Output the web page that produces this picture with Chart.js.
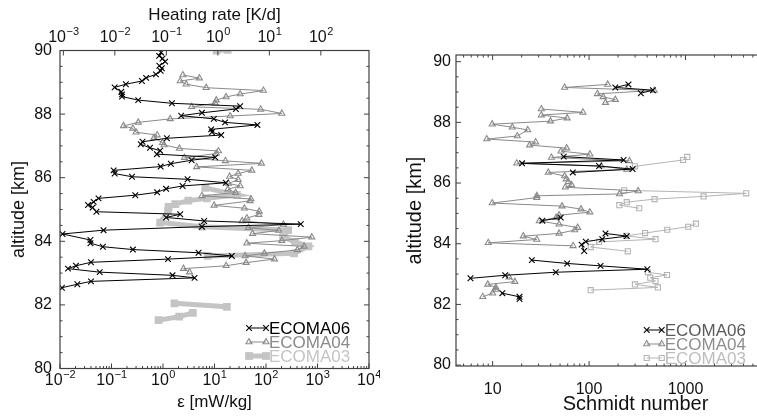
<!DOCTYPE html>
<html>
<head>
<meta charset="utf-8">
<script src="https://cdn.jsdelivr.net/npm/chart.js@4.4.1/dist/chart.umd.min.js"></script>
<style>
  body { margin: 0; background: #fff; overflow: hidden; }
  #wrap { position: relative; width: 757px; height: 418px; overflow: hidden; }
  canvas { position: absolute; top: 0; }
</style>
</head>
<body>
<div id="wrap">
  <canvas id="epsChart" width="380" height="418" style="left:0"></canvas>
  <canvas id="scChart" width="445" height="418" style="left:380px"></canvas>
</div>
<script>
// left panel: energy dissipation rate eps [mW/kg] vs altitude [km]
var epsAlt06 = [89.94,89.83,89.75,89.65,89.52,89.44,89.36,89.25,89.14,89.04,88.94,88.84,88.70,88.62,88.55,88.44,88.34,88.25,88.16,88.04,
  87.95,87.85,87.74,87.66,87.52,87.43,87.34,87.24,87.13,87.05,86.94,86.85,86.74,86.64,86.55,86.44,86.35,86.23,86.13,86.03,
  85.95,85.84,85.74,85.65,85.54,85.45,85.35,85.24,85.14,85.06,84.93,84.85,84.75,84.64,84.54,84.46,84.35,84.23,84.04,83.94,
  83.83,83.74,83.64,83.54,83.44,83.34,83.23,83.14,83.03,82.93,82.85,82.74,82.65,82.54];
var eps06 = [0.92,0.84,0.98,1.10,0.85,0.95,0.90,0.73,0.47,0.39,0.19,0.115,0.155,0.16,0.16,0.33,1.49,31.5,26,5.7,
  2.25,9.7,16,68,8.6,8.9,13.5,1.19,0.40,0.37,0.56,0.88,0.76,10.3,3.6,1.42,0.90,0.11,0.115,0.25,
  3.0,16.6,2.4,1.15,0.77,0.29,0.056,0.045,0.035,0.043,0.051,2.16,1.15,6.3,473,5.7,0.070,0.0112,0.039,0.039,
  0.068,0.26,4.9,21.7,1.25,0.040,0.0204,0.0143,0.059,1.53,4.1,0.040,0.0217,0.0109];

var epsAlt04 = [89.23,89.13,89.04,88.94,88.83,88.74,88.63,88.54,88.44,88.34,88.23,88.15,88.02,87.94,87.85,87.74,87.63,87.55,87.43,87.34,
  87.26,87.10,87.03,86.92,86.84,86.76,86.63,86.53,86.45,86.34,86.23,86.13,86.04,85.94,85.82,85.74,85.64,85.53,85.43,85.33,
  85.27,85.13,85.04,84.94,84.84,84.73,84.64,84.53,84.43,84.34,84.24,84.13,84.02,83.94,83.84,83.73,83.62,83.54,83.44,83.33,
  83.23,83.14,83.03];
var eps04 = [2.43,5.1,2.16,2.82,6.9,89,31.5,16.8,10.8,10.3,3.6,78.7,203,20.1,1.38,0.33,0.171,0.26,0.30,0.77,
  0.67,0.98,1.05,2.09,11.9,10.8,2.61,16.3,81.5,4.5,53,28.8,19.7,28.8,18.7,31.5,18.2,25.7,5.7,51,
  49,9.8,38,74,72.6,42.5,34.4,218,45.6,177,55,774,203,42.5,548,407,93,39.4,146,41,
  16.8,2.5,3.27];

var epsAlt03 = [90.0,90.02,null,85.68,85.46,85.35,85.28,85.17,85.08,84.95,84.59,84.46,84.35,84.13,83.98,83.84,83.62,83.54,null,
  82.05,81.94,null,81.75,81.63,81.52];
var eps03 = [11,18,null,6.6,27.2,7.1,3.1,1.73,1.28,1.25,0.88,5.7,269,215,367,665,351,7.4,null,
  1.67,17.4,null,3.8,2.06,0.82];

// right panel: Schmidt number vs altitude [km]
var scAlt06 = [89.25,89.15,89.06,88.96,null,86.87,86.76,86.65,86.56,86.46,86.35,null,84.86,84.76,null,
  84.34,84.25,84.15,84.07,83.97,83.76,null,83.46,83.35,83.27,83.16,83.06,82.96,82.86,null,82.37,82.25,82.18];
var sc06 = [256,187,459,344,null,54.6,228,20.2,127,283,67.8,null,50.8,32.8,null,
  148,246,137,92.5,83.7,89,null,25.5,59.3,131.5,402,45.2,13.5,5.89,null,12.6,19.0,19.0];

var scAlt04 = [89.25,89.15,89.05,88.94,88.84,88.75,88.65,null,88.44,88.33,88.24,88.14,88.04,87.94,87.84,87.75,87.55,87.45,87.35,87.25,
  87.15,87.05,86.95,86.84,86.73,86.65,86.56,86.45,86.35,86.23,86.13,86.04,85.94,85.86,85.74,85.64,85.58,85.52,85.34,85.24,
  85.14,85.04,84.94,84.86,84.75,84.64,84.53,84.45,84.34,84.25,84.14,84.03,83.93,null,82.90,82.75,82.66,82.56,82.49,82.37,82.25];
var sc04 = [156,55.8,474,122,140,187,148,null,32,86.3,32,59.3,39.8,9.9,16,23.1,18,8.7,27.9,24.2,
  58.5,51.2,102,40.7,262,17.8,134,246,37.8,55.8,58,61,65.8,56.7,323,207,28.7,28.7,9.9,52.4,
  82.4,102,48.9,45.5,30.5,48.9,76.2,71,48.9,20.8,28.7,9.0,68.2,null,14.8,17.0,8.9,10.8,10.8,10,7.9];

var scAlt03 = [86.86,86.76,86.55,null,85.76,85.66,85.56,85.47,85.37,85.27,85.17,null,
  84.66,84.56,84.46,84.35,84.26,84.15,84.06,83.89,83.75,null,83.06,82.97,82.88,82.77,82.66,82.56,82.47];
var sc03 = [1042,942,299,null,231,4260,1539,478,246,206,331,null,
  1282,1067,647,381,242,489,127,104,252,null,408,643,431,489,299,517,104];

// axis tick values
var epsDecades = [1e-2,1e-1,1,10,100,1e3,1e4];
var heatDecades = [1e-3,1e-2,1e-1,1,10,100];
var scDecades = [1,10,100,1000,10000];
var scLabels = [10,100,1000,10000];
var altMajor = [80,82,84,86,88,90];

var KD_PER_MWKG = 86400 / 1004 / 1000;  // mW/kg -> K/d  (cp = 1004 J/kg/K)
var FONT = '"Liberation Sans", Arial, Helvetica, sans-serif';

function pts(xs, ys) {
  return xs.map(function (v, i) { return {x: v, y: ys[i]}; });
}

function logTicks(decades, lo, hi, withMinor) {
  var out = [];
  decades.forEach(function (d) {
    if (d >= lo * 0.999 && d <= hi * 1.001) out.push({value: d, major: true});
    if (withMinor) {
      for (var m = 2; m <= 9; m++) {
        var v = d * m;
        if (v > lo && v < hi) out.push({value: v, major: false});
      }
    }
  });
  return out.sort(function (a, b) { return a.value - b.value; });
}

function altTicks(lo, hi) {
  var out = [];
  for (var v = 80; v <= 90; v += 0.5) {
    if (v >= lo && v <= hi) out.push({value: v, major: altMajor.indexOf(v) >= 0});
  }
  return out;
}

// frame round the plot and tick marks pointing inwards
var boxTicks = {
  id: 'boxTicks',
  afterDatasetsDraw: function (chart, args, o) {
    var a = chart.chartArea, ctx = chart.ctx;
    ctx.save();
    ctx.strokeStyle = '#404040';
    ctx.lineWidth = 1.2;
    ctx.strokeRect(a.left, a.top, a.right - a.left, a.bottom - a.top);
    ctx.lineWidth = 1;
    ctx.beginPath();
    Object.keys(chart.scales).forEach(function (id) {
      var s = chart.scales[id];
      var mirror = (o.mirror || []).indexOf(id) >= 0;
      s.ticks.forEach(function (t) {
        var len = t.major ? 5 : 2.5;
        var p = s.getPixelForValue(t.value);
        if (s.isHorizontal()) {
          if (s.position === 'bottom') { ctx.moveTo(p, a.bottom); ctx.lineTo(p, a.bottom - len); }
          if (s.position === 'top' || mirror) { ctx.moveTo(p, a.top); ctx.lineTo(p, a.top + len); }
        } else {
          ctx.moveTo(a.left, p); ctx.lineTo(a.left + len, p);
          if (mirror) { ctx.moveTo(a.right, p); ctx.lineTo(a.right - len, p); }
        }
      });
    });
    ctx.stroke();
    ctx.restore();
  }
};

// "10" with a raised exponent under / over the decade ticks
var powLabels = {
  id: 'powLabels',
  afterDraw: function (chart, args, o) {
    var ctx = chart.ctx;
    ctx.save();
    ctx.fillStyle = '#111';
    ctx.textBaseline = 'alphabetic';
    (o.axes || []).forEach(function (c) {
      var s = chart.scales[c.id];
      s.ticks.forEach(function (t) {
        if (!t.major) return;
        var e = String(Math.round(Math.log10(t.value))).replace('-', '\u2212');
        var x = s.getPixelForValue(t.value);
        ctx.font = '16px ' + FONT;
        var w1 = ctx.measureText('10').width;
        ctx.font = '11px ' + FONT;
        var w2 = ctx.measureText(e).width;
        var left = x - (w1 + w2) / 2;
        ctx.font = '16px ' + FONT;
        ctx.fillText('10', left, c.base);
        ctx.font = '11px ' + FONT;
        ctx.fillText(e, left + w1 + 0.5, c.base - 7);
      });
    });
    ctx.restore();
  }
};

// legend inside the plot, text in the series colour
var insetLegend = {
  id: 'insetLegend',
  afterDraw: function (chart, args, o) {
    var ctx = chart.ctx;
    ctx.save();
    ctx.textBaseline = 'middle';
    chart.data.datasets.forEach(function (ds, i) {
      var y = o.y + i * o.dy, x0 = o.x, x1 = o.x + o.len;
      ctx.strokeStyle = ds.borderColor;
      ctx.lineWidth = ds.borderWidth;
      ctx.beginPath(); ctx.moveTo(x0, y); ctx.lineTo(x1, y); ctx.stroke();
      ctx.fillStyle = ds.pointBackgroundColor;
      ctx.strokeStyle = ds.pointBorderColor;
      ctx.lineWidth = ds.pointBorderWidth;
      [x0, x1].forEach(function (x) {
        Chart.helpers.drawPoint(ctx, {pointStyle: ds.pointStyle, radius: ds.pointRadius,
          borderWidth: ds.pointBorderWidth, rotation: 0}, x, y);
      });
      ctx.font = o.size + 'px ' + FONT;
      ctx.fillStyle = ds.legendColor;
      ctx.fillText(ds.label, x1 + 3, y + 1);
    });
    ctx.restore();
  }
};

function series(label, data, color, legendColor, style, radius, width, fill) {
  return {
    label: label, data: data, showLine: true,
    borderColor: color, borderWidth: width,
    pointStyle: style, pointRadius: radius, pointBorderWidth: style === 'rect' && fill ? 0 : 1.1,
    pointBorderColor: color, pointBackgroundColor: fill ? color : 'rgba(0,0,0,0)',
    legendColor: legendColor
  };
}

function fixSize(prop, val) {
  return function (s) { s[prop] = val; };
}

var tickFont = {family: FONT, size: 16};
var titleFont = {family: FONT, size: 17};
var bigTitleFont = {family: FONT, size: 20};

var epsMin = 1e-2, epsMax = 1e4;

new Chart(document.getElementById('epsChart'), {
  type: 'scatter',
  data: {
    datasets: [
      series('ECOMA06', pts(eps06, epsAlt06), '#000000', '#000000', 'crossRot', 4, 1, false),
      series('ECOMA04', pts(eps04, epsAlt04), '#8a8a8a', '#8a8a8a', 'triangle', 3.5, 1, false),
      series('ECOMA03', pts(eps03, epsAlt03), '#c4c4c4', '#c4c4c4', 'rect', 5.5, 5, true)
    ]
  },
  options: {
    responsive: false, animation: false, events: [],
    layout: {padding: {right: 11, left: 0, top: 0, bottom: 0}, autoPadding: false},
    plugins: {legend: {display: false}, tooltip: {enabled: false},
      boxTicks: {mirror: ['y']},
      powLabels: {axes: [{id: 'x', base: 384.5}, {id: 'x2', base: 42}]},
      insetLegend: {x: 249, y: 328, dy: 14, len: 17, size: 17}},
    scales: {
      x: {
        type: 'logarithmic', position: 'bottom', min: epsMin, max: epsMax,
        grid: {display: false, drawTicks: false}, border: {display: false},
        afterBuildTicks: function (s) { s.ticks = logTicks(epsDecades, epsMin, epsMax, true); },
        afterFit: fixSize('height', 49.5),
        ticks: {display: false, autoSkip: false},
        title: {display: true, text: '\u03B5 [mW/kg]', color: '#111', font: titleFont, padding: {top: 0, bottom: 5}}
      },
      x2: {
        type: 'logarithmic', position: 'top', display: true,
        min: epsMin * KD_PER_MWKG, max: epsMax * KD_PER_MWKG,
        grid: {display: false, drawTicks: false}, border: {display: false},
        afterBuildTicks: function (s) { s.ticks = logTicks(heatDecades, s.min, s.max, false); },
        afterFit: fixSize('height', 50.5),
        ticks: {display: false, autoSkip: false},
        title: {display: true, text: 'Heating rate [K/d]', color: '#111', font: titleFont, padding: {top: 5, bottom: 0}}
      },
      y: {
        type: 'linear', position: 'left', min: 80, max: 90,
        grid: {display: false, drawTicks: false}, border: {display: false},
        afterBuildTicks: function (s) { s.ticks = altTicks(80, 90); },
        afterFit: fixSize('width', 60),
        ticks: {autoSkip: false, padding: 8, color: '#111', font: tickFont,
          callback: function (v) { return altMajor.indexOf(v) >= 0 ? String(v) : ''; }},
        title: {display: true, text: 'altitude [km]', color: '#111', font: {family: FONT, size: 18}, padding: {top: 8, bottom: 0}}
      }
    }
  },
  plugins: [boxTicks, powLabels, insetLegend]
});

// the right panel runs on past the edge of the picture
var scMin = 4.17, scMax = 22000;
var altMin = 79.97, altMax = 90.22;

new Chart(document.getElementById('scChart'), {
  type: 'scatter',
  data: {
    datasets: [
      series('ECOMA06', pts(sc06, scAlt06), '#000000', '#5a5a5a', 'crossRot', 4, 1, false),
      series('ECOMA04', pts(sc04, scAlt04), '#8a8a8a', '#8e8e8e', 'triangle', 3.5, 1, false),
      series('ECOMA03', pts(sc03, scAlt03), '#b4b4b4', '#bdbdbd', 'rect', 3.6, 1, false)
    ]
  },
  options: {
    responsive: false, animation: false, events: [],
    layout: {padding: {right: 3, left: 0, top: 55, bottom: 0}, autoPadding: false},
    plugins: {legend: {display: false}, tooltip: {enabled: false},
      boxTicks: {mirror: ['y', 'x']},
      insetLegend: {x: 266.7, y: 330, dy: 14, len: 15, size: 17}},
    scales: {
      x: {
        type: 'logarithmic', position: 'bottom', min: scMin, max: scMax,
        grid: {display: false, drawTicks: false}, border: {display: false},
        afterBuildTicks: function (s) { s.ticks = logTicks(scDecades, scMin, scMax, true); },
        afterFit: fixSize('height', 52),
        ticks: {autoSkip: false, maxRotation: 0, padding: 14, color: '#111', font: tickFont,
          callback: function (v) { return scLabels.indexOf(v) >= 0 ? String(v) : ''; }},
        title: {display: true, text: 'Schmidt number', color: '#111', font: bigTitleFont, padding: {top: 0, bottom: 2}}
      },
      y: {
        type: 'linear', position: 'left', min: altMin, max: altMax,
        grid: {display: false, drawTicks: false}, border: {display: false},
        afterBuildTicks: function (s) { s.ticks = altTicks(altMin, altMax); },
        afterFit: fixSize('width', 76),
        ticks: {autoSkip: false, padding: 5, color: '#111', font: tickFont,
          callback: function (v) { return altMajor.indexOf(v) >= 0 ? String(v) : ''; }},
        title: {display: true, text: 'altitude [km]', color: '#111', font: bigTitleFont, padding: {top: 23, bottom: 0}}
      }
    }
  },
  plugins: [boxTicks, powLabels, insetLegend]
});
</script>
</body>
</html>
